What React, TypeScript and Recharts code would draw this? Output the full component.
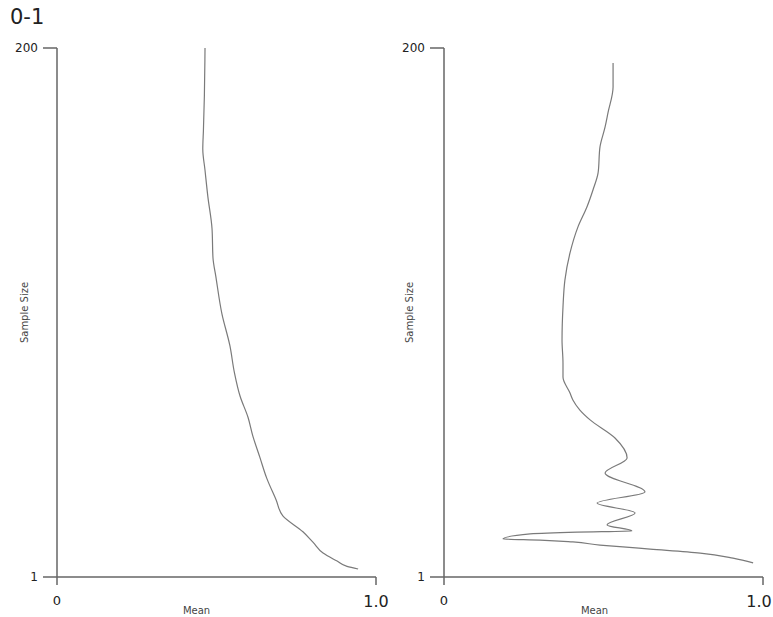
import React from 'react';
import { LineChart, Line, XAxis, YAxis, Label } from 'recharts';

const titleText = '0-1';
const xTicks = [0, 1];
const xTickLabels = ['0', '1.0'];
const yTicks = [1, 200];
const xAxisLabel = 'Mean';
const yAxisLabel = 'Sample Size';

// Left panel: sample size vs mean
const leftN = [4, 5, 7, 10, 14, 18, 24, 30, 38, 46, 54, 61, 69, 78, 88, 100, 114, 121, 132, 144, 154, 162, 169, 182, 200];
const leftMean = [0.944, 0.909, 0.878, 0.834, 0.803, 0.771, 0.708, 0.687, 0.658, 0.636, 0.614, 0.599, 0.574, 0.556, 0.542, 0.517, 0.498, 0.489, 0.486, 0.473, 0.464, 0.457, 0.459, 0.462, 0.464];

// Right panel: sample size vs mean
const rightN = [6.3, 8.1, 10.0, 11.5, 12.3, 13.0, 14.2, 14.9, 15.3, 17.2, 17.9, 18.3, 20.6, 25.1, 28.8, 33.0, 40.1, 45.8, 53.3, 60.1, 63.8, 67.6, 70.2, 76.2, 81.5, 90.2, 102.6, 112.7, 122.9, 132.7, 140.2, 146.6, 153.0, 162.8, 170.3, 175.6, 185.3, 194.4];
const rightMean = [0.969, 0.906, 0.803, 0.646, 0.561, 0.489, 0.404, 0.301, 0.185, 0.270, 0.417, 0.589, 0.511, 0.599, 0.480, 0.630, 0.505, 0.574, 0.536, 0.458, 0.426, 0.404, 0.395, 0.373, 0.373, 0.370, 0.373, 0.379, 0.395, 0.420, 0.448, 0.467, 0.483, 0.489, 0.505, 0.514, 0.530, 0.530];

const toRows = (ns: number[], ms: number[]) => ns.map((n, i) => ({ n, mean: ms[i] }));

const FONT = '"DejaVu Sans", Verdana, sans-serif';
const AXIS = '#666';

const XTick = (props: any) => {
  const { x, y, payload, maxRight } = props;
  const i = xTicks.indexOf(payload.value);
  const big = payload.value === 1;
  const half = big ? 13 : 4;
  const cx = maxRight != null ? Math.min(x, maxRight - half) : x;
  return (
    <text x={cx} y={y + (big ? 20 : 18)} textAnchor="middle" fontSize={big ? 16 : 13} fill="#222" fontFamily={FONT}>
      {xTickLabels[i]}
    </text>
  );
};

const YTick = (props: any) => {
  const { x, y, payload } = props;
  return (
    <text x={x} y={y + 4} textAnchor="end" fontSize={12} fill="#222" fontFamily={FONT}>
      {payload.value}
    </text>
  );
};

type PanelProps = {
  rows: { n: number; mean: number }[];
  left: number;
  width: number;
  rightMargin: number;
  meanDx: number;
  sizeX: number;
  curve: 'monotone' | 'linear';
};

const Panel = ({ rows, left, width, rightMargin, meanDx, sizeX, curve }: PanelProps) => (
  <div style={{ position: 'absolute', left, top: 0 }}>
    <LineChart
      width={width}
      height={617}
      layout="vertical"
      data={rows}
      margin={{ top: 48, right: rightMargin, bottom: 0, left: 0 }}
    >
      <XAxis
        type="number"
        dataKey="mean"
        domain={[0, 1]}
        ticks={xTicks}
        height={40}
        tickSize={8}
        tickMargin={2}
        stroke={AXIS}
        strokeWidth={1.5}
        tick={<XTick maxRight={width - 1} />}
        interval={0}
      >
        <Label
          content={(p: any) => {
            const vb = p.viewBox;
            return (
              <text x={vb.x + vb.width / 2 + meanDx} y={614} textAnchor="middle" fontSize={10} fill="#444" fontFamily={FONT}>
                {xAxisLabel}
              </text>
            );
          }}
        />
      </XAxis>
      <YAxis
        type="number"
        dataKey="n"
        domain={[1, 200]}
        ticks={yTicks}
        reversed
        width={57}
        tickSize={14}
        tickMargin={5}
        stroke={AXIS}
        strokeWidth={1.5}
        tick={<YTick />}
        interval={0}
      >
        <Label
          content={(p: any) => {
            const vb = p.viewBox;
            const cy = vb.y + vb.height / 2;
            return (
              <text
                x={sizeX}
                y={cy}
                transform={`rotate(-90 ${sizeX} ${cy})`}
                textAnchor="middle"
                fontSize={10}
                fill="#444"
                fontFamily={FONT}
              >
                {yAxisLabel}
              </text>
            );
          }}
        />
      </YAxis>
      <Line
        type={curve}
        dataKey="mean"
        stroke="#7a7a7a"
        strokeWidth={1.2}
        dot={false}
        isAnimationActive={false}
      />
    </LineChart>
  </div>
);

export default function App() {
  return (
    <div style={{ position: 'absolute', left: 0, top: 0, width: 773, height: 617, background: '#fff', overflow: 'hidden' }}>
      <div style={{ position: 'absolute', left: 10, top: 5, fontFamily: FONT, fontSize: 21, color: '#222' }}>{titleText}</div>
      <Panel rows={toRows(leftN, leftMean)} left={0} width={400} rightMargin={24} meanDx={-20} sizeX={28} curve="monotone" />
      <Panel rows={toRows(rightN, rightMean)} left={387} width={386} rightMargin={10} meanDx={-9} sizeX={26} curve="monotone" />
    </div>
  );
}
